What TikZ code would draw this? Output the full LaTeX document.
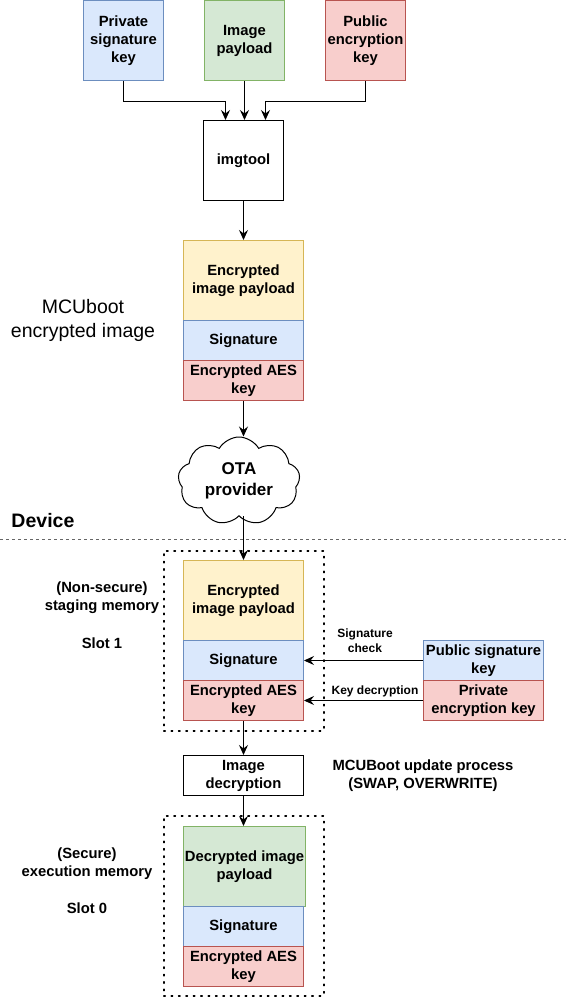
\documentclass[tikz,border=0pt]{standalone}
\usepackage{fontspec}
\setmainfont{Liberation Sans}
\usetikzlibrary{arrows.meta,shapes.symbols,positioning}
\definecolor{bfill}{HTML}{DAE8FC}\definecolor{bline}{HTML}{6C8EBF}
\definecolor{gfill}{HTML}{D5E8D4}\definecolor{gline}{HTML}{82B366}
\definecolor{rfill}{HTML}{F8CECC}\definecolor{rline}{HTML}{B85450}
\definecolor{yfill}{HTML}{FFF2CC}\definecolor{yline}{HTML}{D6B656}
\begin{document}
\begin{tikzpicture}[x=1pt,y=-1pt,line width=1pt,
  lbl/.style={font=\fontsize{14.8}{18}\selectfont\bfseries, align=center, inner sep=0},
  small/.style={font=\fontsize{12}{15}\selectfont\bfseries, align=center, inner sep=0},
  blk/.style={draw, rectangle, anchor=north west, inner sep=0, minimum width=#1,
    font=\fontsize{14.8}{18}\selectfont\bfseries, align=center},
  blk/.default=120,
  bluebox/.style={fill=bfill, draw=bline},
  greenbox/.style={fill=gfill, draw=gline},
  redbox/.style={fill=rfill, draw=rline},
  yellowbox/.style={fill=yfill, draw=yline},
  arr/.style={draw=black, -{Stealth[length=10pt,width=9pt,inset=3.5pt]}},
  dotbox/.style={draw, anchor=north west, inner sep=0, line width=1.6pt,
    dash pattern=on 1.4pt off 6pt, line cap=round},
]
\useasboundingbox (0,0) rectangle (566,997);
\fill[white] (0,0) rectangle (566,997);

% top inputs
\node[blk=80, bluebox, minimum height=80] (psk) at (83,0) {Private\\signature\\key};
\node[blk=80, greenbox, minimum height=80] (pay) at (204,0) {Image\\payload};
\node[blk=80, redbox, minimum height=80] (pek) at (325,0) {Public\\encryption\\key};
\node[blk=80, minimum height=80] (img) at (203,120) {imgtool};

\draw[arr] (psk.south) -- ++(0,20) -| ([xshift=-18pt]img.north);
\draw[arr] (pay.south) -- (pay.south |- img.north);
\draw[arr] (pek.south) -- ++(0,20) -| ([xshift=22pt]img.north);

% encrypted image
\node[blk, yellowbox, minimum height=80] (ep1) at (183,240) {Encrypted\\image payload};
\node[blk, bluebox, minimum height=40] (sg1) at (183,320) {Signature};
\node[blk, redbox, minimum height=40] (ak1) at (183,360) {Encrypted AES\\key};
\draw[arr] (img.south) -- (ep1.north);

\node[font=\fontsize{19.5}{24}\selectfont, align=center, inner sep=0] (mcu) at (83,320) {MCUboot\\encrypted image};

% cloud
\node[cloud, draw, fill=white, cloud puffs=9, cloud puff arc=120, aspect=1.4,
  minimum width=122, minimum height=88, inner sep=0,
  font=\fontsize{17}{21}\selectfont\bfseries, align=center] (ota) at (239,481) {OTA\\provider};
\draw[arr] (ak1.south) -- (ak1.south |- ota.north);

% device separator
\node[font=\fontsize{19.5}{24}\selectfont\bfseries, anchor=west, inner sep=0] (dev) at (11,521) {Device};
\coordinate (sepL) at (0,539);
\coordinate (sepR) at (566,539);
\draw[draw=black!60, line width=1pt, dash pattern=on 3pt off 3pt] (sepL) -- (sepR);

% slot 1
\node[dotbox, minimum width=160, minimum height=180] (slot1) at (163,550) {};
\node[blk, yellowbox, minimum height=80] (ep2) at (183,560) {Encrypted\\image payload};
\node[blk, bluebox, minimum height=40] (sg2) at (183,640) {Signature};
\node[blk, redbox, minimum height=40] (ak2) at (183,680) {Encrypted AES\\key};
\draw[arr] (ota.south -| ep2.north) -- (ep2.north);

\node[lbl] (ns) at (102,598) {(Non-secure)\\staging memory};
\node[lbl] (s1) at (102,643) {Slot 1};

\node[blk, bluebox, minimum height=40] (pubs) at (423,640) {Public signature\\key};
\node[blk, redbox, minimum height=40] (prve) at (423,680) {Private\\encryption key};
\draw[arr] (pubs.west) -- (sg2.east);
\draw[arr] (prve.west) -- (ak2.east);
\node[small] (sc) at (365,641) {Signature\\check};
\node[small] (kd) at (375,691) {Key decryption};

% decryption
\node[blk, minimum height=40] (dec) at (183,755) {Image\\decryption};
\draw[arr] (ak2.south) -- (dec.north);
\node[lbl] (upd) at (423,776) {MCUBoot update process\\(SWAP, OVERWRITE)};

% slot 0
\node[dotbox, minimum width=160, minimum height=180] (slot0) at (163,815) {};
\node[blk=122, greenbox, minimum height=80] (dp) at (183,826) {Decrypted image\\payload};
\node[blk, bluebox, minimum height=40] (sg3) at (183,906) {Signature};
\node[blk, redbox, minimum height=40] (ak3) at (183,946) {Encrypted AES\\key};
\draw[arr] (dec.south) -- (dec.south |- dp.north);

\node[lbl] (sec) at (87,864) {(Secure)\\execution memory};
\node[lbl] (s0) at (87,908) {Slot 0};
\end{tikzpicture}
\end{document}
